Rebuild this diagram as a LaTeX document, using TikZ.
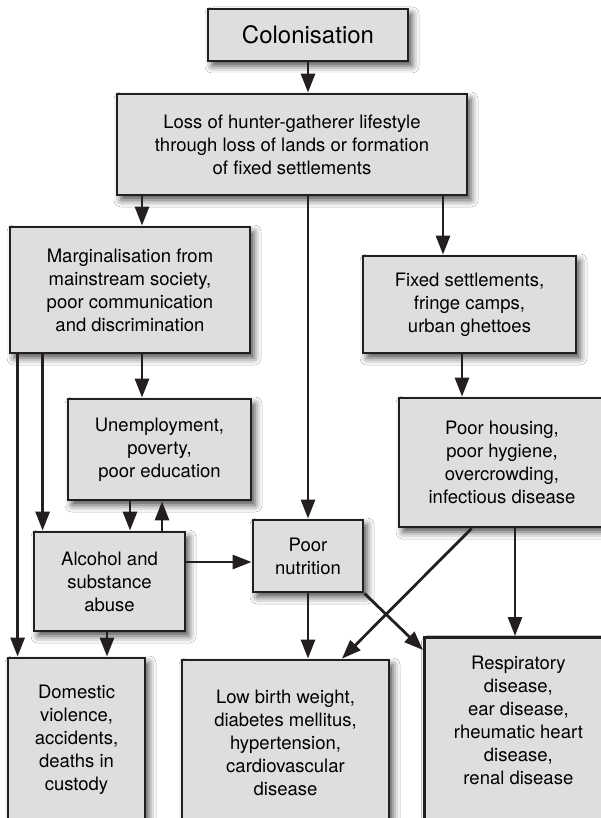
\documentclass[tikz,border=0pt]{standalone}
\usepackage{fontspec}
\setmainfont{TeX Gyre Heros}
\usetikzlibrary{arrows.meta,calc,shadows.blur}
\definecolor{boxfill}{RGB}{221,222,224}
\definecolor{ink}{RGB}{35,31,32}

\begin{document}
\begin{tikzpicture}[x=1pt,y=-1pt,
  box/.style={draw=ink,line width=2.8pt,fill=boxfill,align=center,inner sep=0pt,
    font=\fontsize{18.5}{23}\selectfont,
    blur shadow={shadow xshift=4pt,shadow yshift=-5pt,shadow blur radius=7pt,shadow opacity=70}},
  arr/.style={draw=ink,line width=2.8pt,-{Triangle[length=19pt,width=14pt]}}]
\useasboundingbox (0,0) rectangle (601,818);
\fill[white] (0,0) rectangle (601,818);
\clip (0,0) rectangle (601,818);

% boxes, top to bottom
\node[box,minimum width=200,minimum height=52,font=\fontsize{24}{28}\selectfont] (colon) at (308,35) {Colonisation};
\node[box,minimum width=350,minimum height=101] (loss) at (292,144.5) {Loss of hunter-gatherer lifestyle\\through loss of lands or formation\\of fixed settlements};
\node[box,minimum width=240,minimum height=126] (marg) at (130,290) {Marginalisation from\\mainstream society,\\poor communication\\and discrimination};
\node[box,minimum width=213,minimum height=97] (fixed) at (469.5,304.5) {Fixed settlements,\\fringe camps,\\urban ghettoes};
\node[box,minimum width=183,minimum height=101] (unemp) at (159.5,449.5) {Unemployment,\\poverty,\\poor education};
\node[box,minimum width=206,minimum height=129] (housing) at (502,462.5) {Poor housing,\\poor hygiene,\\overcrowding,\\infectious disease};
\node[box,minimum width=151,minimum height=99] (alcohol) at (109.5,581.5) {Alcohol and\\substance\\abuse};
\node[box,minimum width=110,minimum height=72] (nutr) at (308,556) {Poor\\nutrition};
\node[box,minimum width=137,minimum height=164] (domestic) at (76.5,740) {Domestic\\violence,\\accidents,\\deaths in\\custody};
\node[box,minimum width=207,minimum height=166] (lowbirth) at (285.5,743) {Low birth weight,\\diabetes mellitus,\\hypertension,\\cardiovascular\\disease};
\node[box,anchor=north west] (resp) at (423,636) {\parbox[t][200pt][t]{188pt}{\centering\vspace*{19pt}Respiratory\\disease,\\ear disease,\\rheumatic heart\\disease,\\renal disease}};

% where the arrows leave and meet the boxes
\coordinate (tomarg) at ([xshift=12pt]marg.north);
\coordinate (tofix) at ([xshift=-26.5pt]fixed.north);
\coordinate (tohouse) at ([xshift=-7.5pt]fixed.south);
\coordinate (tounemp) at ([xshift=12pt]marg.south);
\coordinate (todom) at ([xshift=11pt]domestic.north west);
\coordinate (toalc) at ([xshift=10pt]alcohol.north west);
\coordinate (downalc) at ([xshift=-29.5pt]unemp.south);
\coordinate (upunemp) at ([xshift=2.5pt]unemp.south);
\coordinate (tonutr) at ([yshift=19.5pt]alcohol.east);
\coordinate (alcdom) at ([xshift=-2.5pt]alcohol.south);
\coordinate (houselow) at ([xshift=74pt]housing.south west);
\coordinate (lowtip) at ([xshift=56.5pt]lowbirth.north);
\coordinate (resptip) at ([yshift=-14pt]resp.north west);
\coordinate (houseresp) at ([xshift=13pt]housing.south);

\draw[arr] (colon.south) -- (colon.south |- loss.north);
\draw[arr] (tomarg |- loss.south) -- (tomarg);
\draw[arr] (nutr |- loss.south) -- (nutr.north);
\draw[arr] (tofix |- loss.south) -- (tofix);
\draw[arr] (tohouse) -- (tohouse |- housing.north);
\draw[arr] (tounemp) -- (tounemp |- unemp.north);
\draw[arr] (todom |- marg.south) -- (todom);
\draw[arr] (toalc |- marg.south) -- (toalc);
\draw[arr] (downalc) -- (downalc |- alcohol.north);
\draw[arr] (upunemp |- alcohol.north) -- (upunemp);
\draw[arr] (tonutr) -- (tonutr -| nutr.west);
\draw[arr] (alcdom) -- (alcdom |- domestic.north);
\draw[arr] (nutr.south) -- (nutr.south |- lowbirth.north);
\draw[arr] (nutr.south east) -- (resptip);
\draw[arr] (houselow) -- (lowtip);
\draw[arr] (houseresp) -- (houseresp |- resp.north);
\end{tikzpicture}
\end{document}
